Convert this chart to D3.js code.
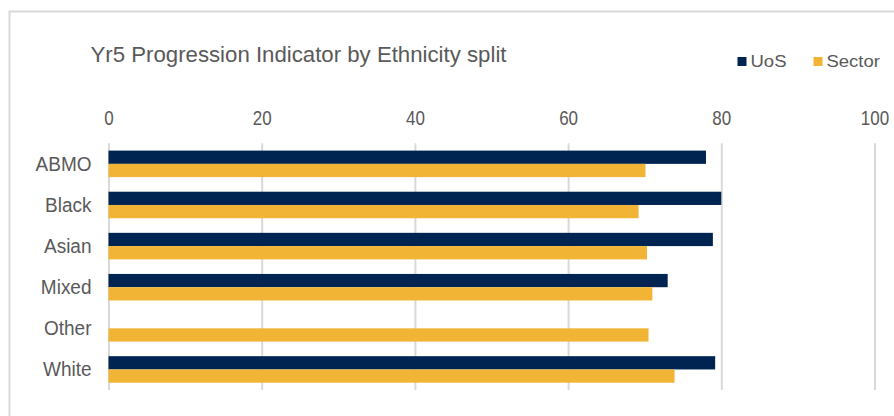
<!DOCTYPE html>
<html>
<head>
<meta charset="utf-8">
<script src="https://cdn.jsdelivr.net/npm/d3@7"></script>
<style>
  html, body { margin: 0; padding: 0; background: #fff; }
  svg { display: block; }
  text { font-family: "Liberation Sans", Arial, sans-serif; fill: #595959; }
</style>
</head>
<body>
<div id="chart"></div>
<script>
const categories = ["ABMO", "Black", "Asian", "Mixed", "Other", "White"];
const seriesNames = ["UoS", "Sector"];
const uosValues = [78.0, 80.0, 78.9, 73.0, null, 79.2];
const sectorValues = [70.1, 69.2, 70.3, 71.0, 70.5, 73.9];
const xTicks = [0, 20, 40, 60, 80, 100];
const colors = ["#002452", "#f1b434"];
const title = "Yr5 Progression Indicator by Ethnicity split";

const width = 894;
const height = 416;

const svg = d3.select("#chart").append("svg")
    .attr("width", width)
    .attr("height", height);

// stretch text vertically around its baseline (reference glyphs look tall)
function stretch(sel, sy) {
    sel.each(function() {
        const t = d3.select(this);
        const by = +t.attr("y") || 0;
        t.attr("transform", `translate(0,${by}) scale(1,${sy}) translate(0,${-by})`);
    });
}

// chart area border (runs off the bottom / right)
svg.append("rect")
    .attr("x", 9.5).attr("y", 11.5)
    .attr("width", 900).attr("height", 420)
    .attr("fill", "#fff")
    .attr("stroke", "#d9d9d9")
    .attr("stroke-width", 2);

const x = d3.scaleLinear()
    .domain([0, 100])
    .range([108.5, 874.5]);

const y = d3.scaleBand()
    .domain(categories)
    .range([143.3, 390])
    .paddingInner(0.355)
    .paddingOuter(0.1775);

const ySub = d3.scaleBand()
    .domain(seriesNames)
    .range([0, y.bandwidth()]);

// gridlines + top tick labels
svg.append("g")
    .attr("transform", `translate(0,${y.range()[0]})`)
    .attr("font-family", null)
    .call(d3.axisTop(x).tickValues(xTicks).tickSize(-(y.range()[1] - y.range()[0])))
    .call(g => g.select(".domain").remove())
    .call(g => g.selectAll(".tick line").attr("stroke", "#d9d9d9").attr("stroke-width", 2))
    .call(g => g.selectAll(".tick text")
        .attr("font-size", 17)
        .attr("fill", "#595959")
        .attr("dy", null)
        .attr("y", -18)
        .call(stretch, 1.2));

const rows = categories.map((c, i) => ({ cat: c, values: [uosValues[i], sectorValues[i]] }));

const groups = svg.append("g")
    .selectAll("g")
    .data(rows)
    .join("g")
    .attr("transform", d => `translate(0,${y(d.cat)})`);

groups.selectAll("rect")
    .data(d => d.values.map((v, j) => ({ name: seriesNames[j], value: v, color: colors[j] })).filter(e => e.value != null))
    .join("rect")
    .attr("x", x(0))
    .attr("y", d => ySub(d.name))
    .attr("width", d => x(d.value) - x(0))
    .attr("height", ySub.bandwidth())
    .attr("fill", d => d.color);

// category labels
svg.append("g")
    .attr("transform", `translate(${x(0)},${y.bandwidth() / 2})`)
    .attr("font-family", null)
    .call(d3.axisLeft(y).tickSize(0).tickPadding(17))
    .call(g => g.select(".domain").remove())
    .call(g => g.selectAll(".tick").attr("transform", d => `translate(0,${y(d)})`))
    .call(g => g.selectAll(".tick text")
        .attr("font-size", 19)
        .attr("fill", "#595959")
        .attr("dy", null)
        .attr("y", 7)
        .call(stretch, 1.08));

// title
svg.append("text")
    .attr("x", 90.5)
    .attr("y", 62.5)
    .attr("font-size", 22)
    .attr("textLength", 416)
    .attr("lengthAdjust", "spacingAndGlyphs")
    .text(title)
    .call(stretch, 1.02);

// legend
const legendX = [737.5, 813.5];
const legend = svg.append("g")
    .selectAll("g")
    .data(seriesNames)
    .join("g")
    .attr("transform", (d, i) => `translate(${legendX[i]},57)`);

legend.append("rect")
    .attr("width", 9)
    .attr("height", 9)
    .attr("fill", (d, i) => colors[i]);

legend.append("text")
    .attr("x", 13)
    .attr("y", 10.3)
    .attr("font-size", 18.5)
    .text(d => d)
    .call(stretch, 0.93);
</script>
</body>
</html>
